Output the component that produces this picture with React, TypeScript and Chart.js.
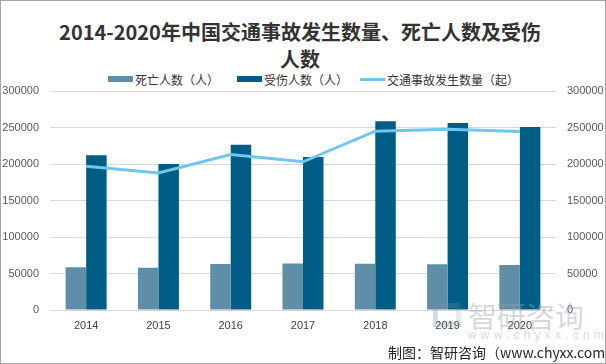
import React, { useEffect, useRef } from "react";
import { Chart, registerables } from "chart.js";

Chart.register(...registerables);

const years = ["2014", "2015", "2016", "2017", "2018", "2019", "2020"];
const deaths = [58523, 58022, 63093, 63772, 63194, 62763, 61703];
const injuries = [211882, 199880, 226430, 209654, 258532, 256101, 250723];
const accidents = [196812, 187781, 212846, 203049, 244937, 247646, 244674];

const seriesNames = ["死亡人数（人）", "受伤人数（人）", "交通事故发生数量（起）"];
const colors = ["#5F8FA8", "#005E86", "#6FC6EE"];

const titleLines = ["2014-2020年中国交通事故发生数量、死亡人数及受伤", "人数"];
const sourceText = "制图：智研咨询（www.chyxx.com）";

const CJK = '"Noto Sans CJK SC", "Noto Sans", sans-serif';
const TICK = '"Liberation Sans", Arial, sans-serif';

const plainTick = (v: any) => String(v);

export default function App() {
  const ref = useRef<HTMLCanvasElement | null>(null);

  useEffect(() => {
    const canvas = ref.current;
    if (!canvas) return;
    const chart = new Chart(canvas, {
      type: "bar",
      data: {
        labels: years,
        datasets: [
          {
            type: "line",
            label: seriesNames[2],
            data: accidents,
            borderColor: colors[2],
            backgroundColor: colors[2],
            borderWidth: 3,
            pointRadius: 0,
            tension: 0,
            yAxisID: "y",
            order: 0,
          } as any,
          {
            label: seriesNames[0],
            data: deaths,
            backgroundColor: colors[0],
            yAxisID: "y",
            order: 1,
            categoryPercentage: 0.567,
            barPercentage: 1,
          },
          {
            label: seriesNames[1],
            data: injuries,
            backgroundColor: colors[1],
            yAxisID: "y",
            order: 1,
            categoryPercentage: 0.567,
            barPercentage: 1,
          },
        ],
      },
      options: {
        responsive: false,
        animation: false,
        devicePixelRatio: 1,
        layout: { padding: { top: 91, left: 0, right: 0, bottom: 0 } },
        plugins: {
          legend: { display: false },
          title: { display: false },
          tooltip: { enabled: false },
        },
        scales: {
          x: {
            grid: { display: false, drawTicks: false },
            border: { display: false },
            ticks: {
              padding: 9,
              color: "#404040",
              font: { family: TICK, size: 11 },
              maxRotation: 0,
            },
            afterFit: (s: any) => {
              s.height = 54;
            },
          },
          y: {
            position: "left",
            min: 0,
            max: 300000,
            grid: { color: "#D9D9D9", drawTicks: false, lineWidth: 1 },
            border: { display: false },
            ticks: {
              stepSize: 50000,
              padding: 11,
              color: "#595959",
              font: { family: TICK, size: 11 },
              callback: plainTick,
            },
            afterFit: (s: any) => {
              s.width = 50;
            },
          },
          y2: {
            position: "right",
            min: 0,
            max: 300000,
            grid: { display: false, drawTicks: false },
            border: { display: false },
            ticks: {
              stepSize: 50000,
              padding: 11,
              color: "#595959",
              font: { family: TICK, size: 11 },
              callback: plainTick,
            },
            afterFit: (s: any) => {
              s.width = 50;
            },
          },
        },
      },
    });
    return () => chart.destroy();
  }, []);

  const legendItems = [
    { left: 108, kind: "box", color: colors[0], text: seriesNames[0] },
    { left: 237, kind: "box", color: colors[1], text: seriesNames[1] },
    { left: 360, kind: "line", color: colors[2], text: seriesNames[2] },
  ];

  return (
    <div
      style={{
        position: "absolute",
        left: 0,
        top: 0,
        width: 606,
        height: 364,
        background: "#fff",
        overflow: "hidden",
      }}
    >
      <div
        style={{
          position: "absolute",
          left: 0,
          top: 18,
          width: 600,
          textAlign: "center",
          fontFamily: CJK,
          fontWeight: 700,
          fontSize: 20,
          lineHeight: "27px",
          color: "#333333",
        }}
      >
        {titleLines.map((t, i) => (
          <div key={i}>{t}</div>
        ))}
      </div>
      {legendItems.map((it, i) => (
        <div
          key={i}
          style={{
            position: "absolute",
            left: it.left,
            top: 71,
            height: 16,
            display: "flex",
            alignItems: "center",
            fontFamily: CJK,
            fontSize: 12,
            color: "#333333",
            whiteSpace: "nowrap",
          }}
        >
          <span
            style={{
              display: "inline-block",
              width: 25,
              height: it.kind === "box" ? 6 : 3,
              background: it.color,
              marginRight: 2,
            }}
          />
          <span>{it.text}</span>
        </div>
      ))}
      <canvas
        ref={ref}
        width={606}
        height={364}
        style={{ position: "absolute", left: 0, top: 0, width: 606, height: 364 }}
      />
      <div
        style={{
          position: "absolute",
          left: 433,
          top: 303,
          width: 28,
          height: 24,
          border: "5px solid rgba(120,140,165,0.3)",
          boxSizing: "border-box",
          borderRightColor: "rgba(120,140,165,0.18)",
        }}
      />
      <div
        style={{
          position: "absolute",
          left: 468,
          top: 296,
          fontFamily: CJK,
          fontSize: 29,
          lineHeight: "38px",
          color: "rgba(150,160,170,0.4)",
          whiteSpace: "nowrap",
        }}
      >
        智研咨询
      </div>
      <div
        style={{
          position: "absolute",
          left: 468,
          top: 327,
          fontFamily: TICK,
          fontSize: 12,
          letterSpacing: 4.2,
          lineHeight: "16px",
          color: "rgba(150,160,170,0.4)",
          whiteSpace: "nowrap",
        }}
      >
        www.chyxx.com
      </div>
      <div
        style={{
          position: "absolute",
          left: 388,
          top: 342,
          fontFamily: CJK,
          fontSize: 14,
          lineHeight: "20px",
          color: "#262626",
          whiteSpace: "nowrap",
        }}
      >
        {sourceText}
      </div>
      <div
        style={{
          position: "absolute",
          left: 0,
          top: 0,
          width: 606,
          height: 364,
          boxSizing: "border-box",
          border: "1px solid #A6A6A6",
          pointerEvents: "none",
        }}
      />
    </div>
  );
}
